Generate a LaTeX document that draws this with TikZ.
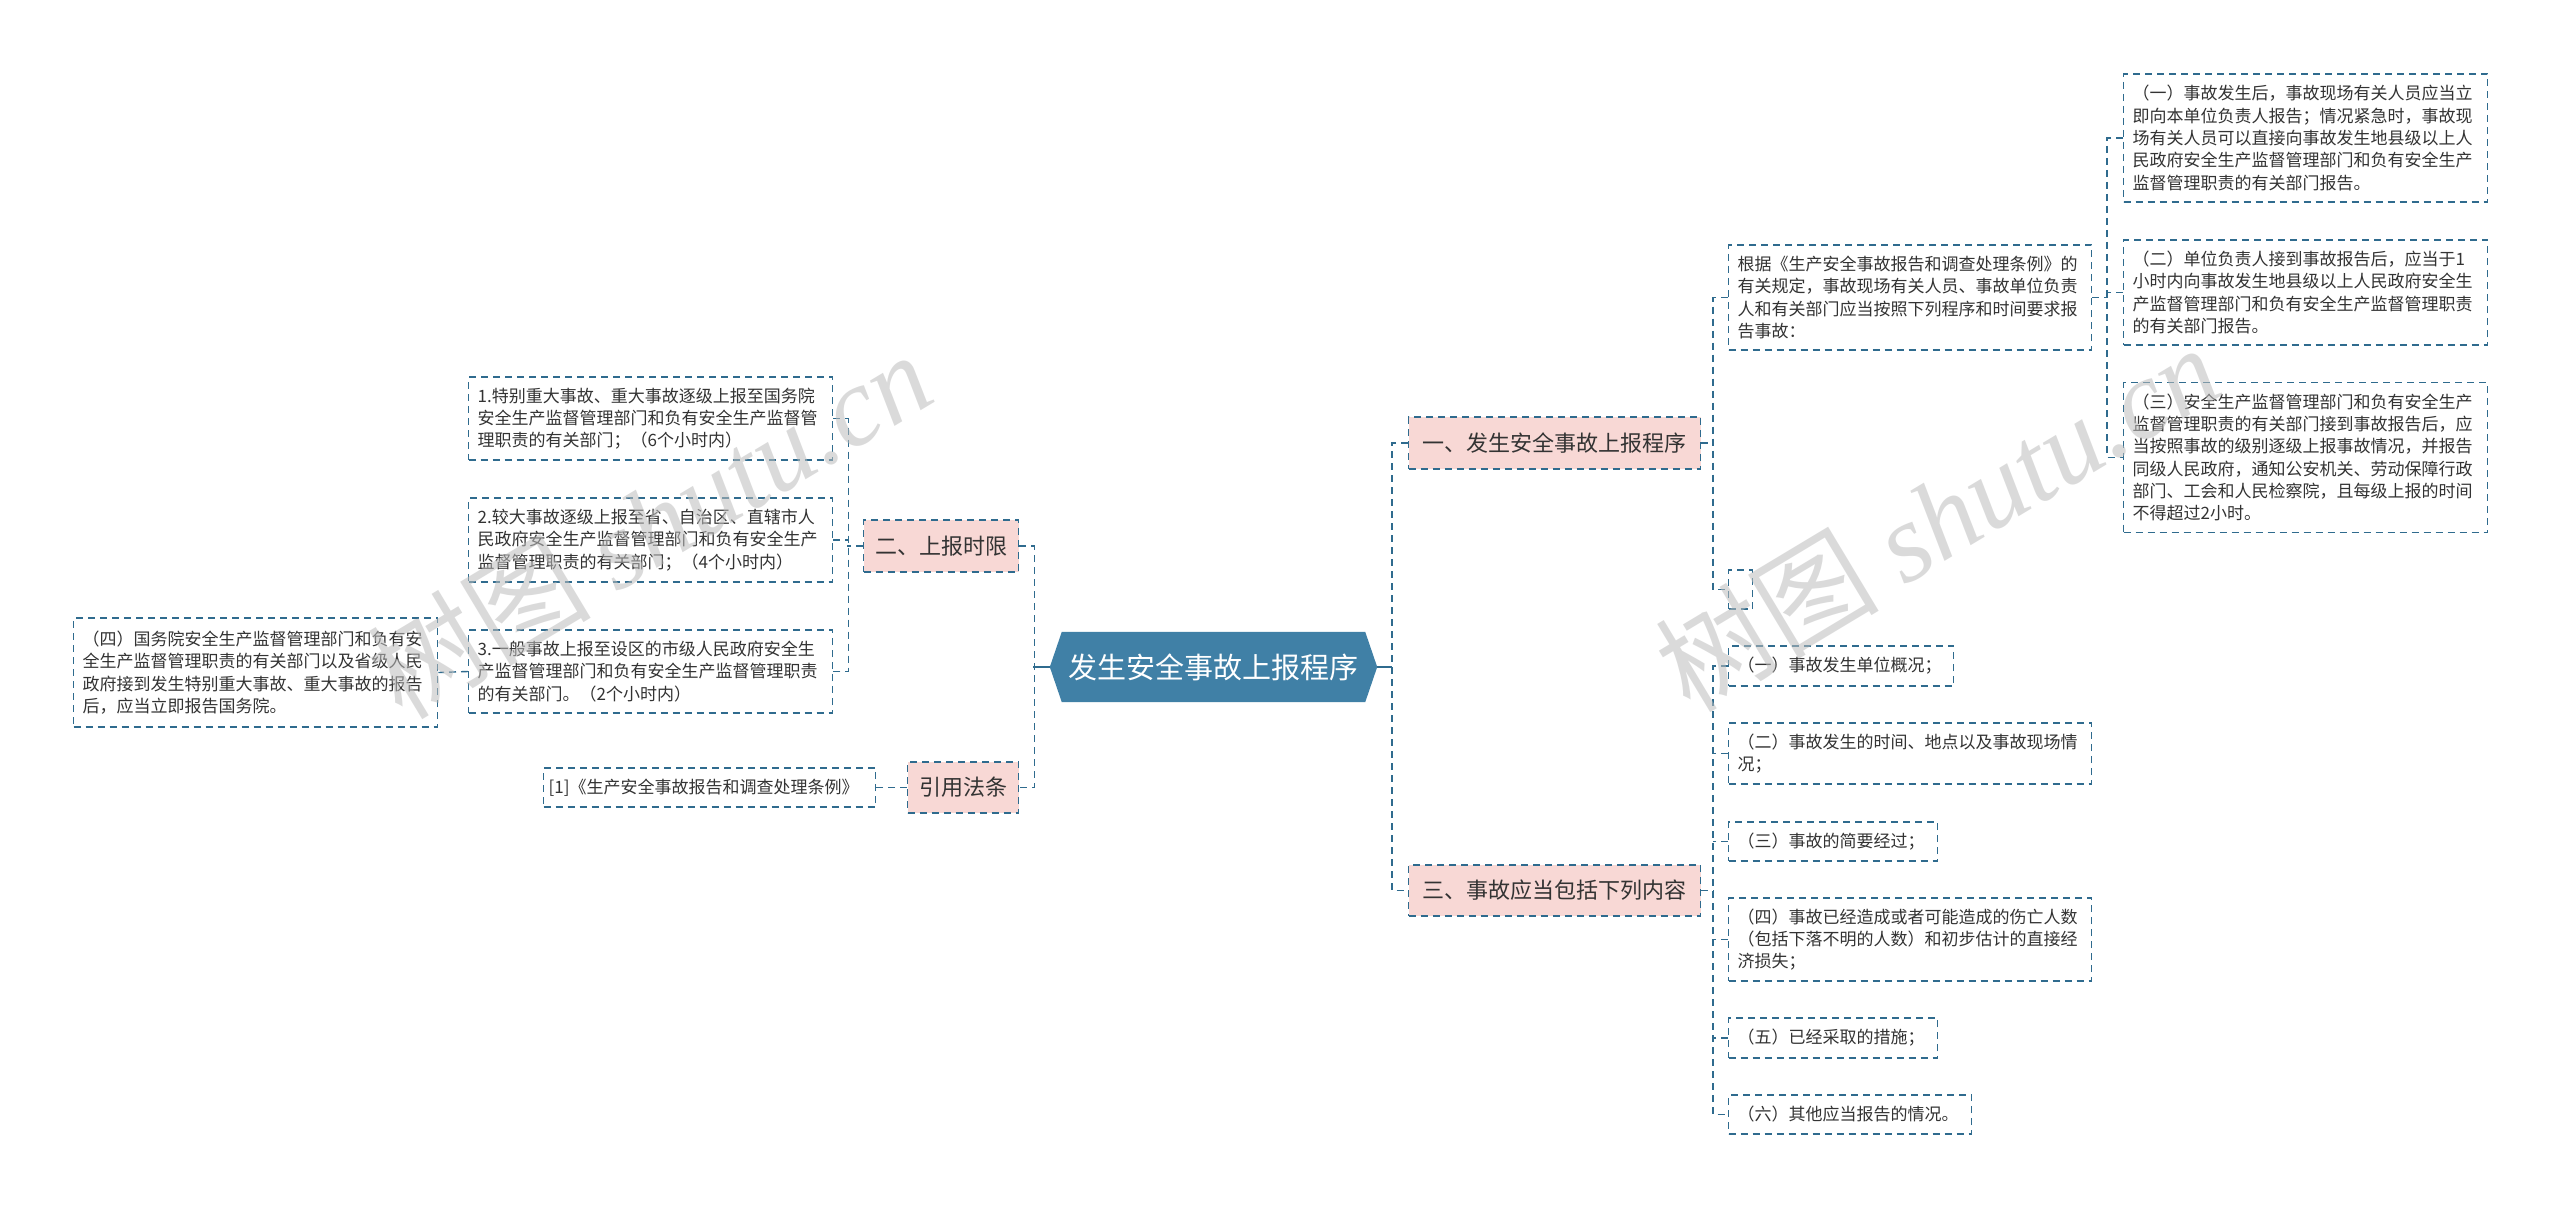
\documentclass[tikz,border=0pt]{standalone}
\usepackage{fontspec}
\setmainfont{Noto Sans CJK SC}
\newfontfamily\wmlatin{Liberation Serif}
\usetikzlibrary{calc}
\definecolor{lc}{HTML}{2F6B8E}
\definecolor{pinkf}{HTML}{F8D8D5}
\definecolor{hubf}{HTML}{4080A6}
\definecolor{tc}{HTML}{333333}
\definecolor{wm}{HTML}{BDBDBD}
\begin{document}
\begin{tikzpicture}[x=1pt,y=-1pt,
  dsh/.style={draw=lc, line width=1.4pt, dash pattern=on 7pt off 5pt},
  leaf/.style={dsh, fill=white, anchor=west, align=left, inner xsep=9pt, inner ysep=0pt, text=tc, font=\fontsize{17}{22.3}\selectfont},
  topic/.style={dsh, fill=pinkf, anchor=west, inner sep=0pt, text=tc, font=\fontsize{22}{26}\selectfont},
  link/.style={dsh},
  trunk/.style={draw=lc, line width=2pt},
  hub/.style={text=white, font=\fontsize{29}{34}\selectfont, minimum width=327pt, minimum height=70pt, inner sep=0pt},
  wmark/.style={rotate=31, text=wm, opacity=0.55, font=\fontsize{112}{112}\selectfont}
]
\useasboundingbox (0,0) rectangle (2560,1209);
\fill[white] (0,0) rectangle (2560,1209);

% root
\node[hub] (root) at (1213.5,667) {};
\fill[hubf] (root.west) -- ($(root.north west)+(12,0)$) -- ($(root.north east)+(-12,0)$) -- (root.east) -- ($(root.south east)+(-12,0)$) -- ($(root.south west)+(12,0)$) -- cycle;
\node[hub] at (root.center) {发生安全事故上报程序};

% level 1
\node[topic, minimum width=292pt, minimum height=52pt] (n1) at (1408,443) {一、发生安全事故上报程序};
\node[topic, minimum width=292pt, minimum height=51pt] (n3) at (1408,890.5) {三、事故应当包括下列内容};
\node[topic, minimum width=155pt, minimum height=52pt] (n2) at (863,546) {二、上报时限};
\node[topic, minimum width=111pt, minimum height=51pt] (n4) at (907,787.5) {引用法条};

% left leaves
\node[leaf, text width=346pt, minimum height=83pt] (b1) at (468,418.5) {1.特别重大事故、重大事故逐级上报至国务院\\安全生产监督管理部门和负有安全生产监督管\\理职责的有关部门；（6个小时内）};
\node[leaf, text width=346pt, minimum height=84pt] (b2) at (468,540) {2.较大事故逐级上报至省、自治区、直辖市人\\民政府安全生产监督管理部门和负有安全生产\\监督管理职责的有关部门；（4个小时内）};
\node[leaf, text width=346pt, minimum height=83pt] (b3) at (468,671.5) {3.一般事故上报至设区的市级人民政府安全生\\产监督管理部门和负有安全生产监督管理职责\\的有关部门。（2个小时内）};
\node[leaf, text width=346pt, minimum height=109pt] (q4) at (73,672.5) {（四）国务院安全生产监督管理部门和负有安\\全生产监督管理职责的有关部门以及省级人民\\政府接到发生特别重大事故、重大事故的报告\\后，应当立即报告国务院。};
\node[leaf, inner xsep=5pt, text width=322pt, minimum height=39pt] (ref) at (543,787.5) {[1]《生产安全事故报告和调查处理条例》};

% right leaves of n1
\node[leaf, text width=345pt, minimum height=105pt] (gj) at (1728,297.5) {根据《生产安全事故报告和调查处理条例》的\\有关规定，事故现场有关人员、事故单位负责\\人和有关部门应当按照下列程序和时间要求报\\告事故：};
\node[dsh, fill=white, anchor=west, minimum width=24pt, minimum height=39pt, inner sep=0pt] (e0) at (1728,589.5) {};
\node[leaf, text width=346pt, minimum height=128pt] (r1) at (2123,138) {（一）事故发生后，事故现场有关人员应当立\\即向本单位负责人报告；情况紧急时，事故现\\场有关人员可以直接向事故发生地县级以上人\\民政府安全生产监督管理部门和负有安全生产\\监督管理职责的有关部门报告。};
\node[leaf, text width=346pt, minimum height=105pt] (r2) at (2123,292.5) {（二）单位负责人接到事故报告后，应当于1\\小时内向事故发生地县级以上人民政府安全生\\产监督管理部门和负有安全生产监督管理职责\\的有关部门报告。};
\node[leaf, text width=346pt, minimum height=150pt] (r3) at (2123,457.5) {（三）安全生产监督管理部门和负有安全生产\\监督管理职责的有关部门接到事故报告后，应\\当按照事故的级别逐级上报事故情况，并报告\\同级人民政府，通知公安机关、劳动保障行政\\部门、工会和人民检察院，且每级上报的时间\\不得超过2小时。};

% right leaves of n3
\node[leaf, text width=207pt, minimum height=40pt] (c1) at (1728,666) {（一）事故发生单位概况；};
\node[leaf, text width=345pt, minimum height=61pt] (c2) at (1728,753.5) {（二）事故发生的时间、地点以及事故现场情\\况；};
\node[leaf, text width=191pt, minimum height=39pt] (c3) at (1728,841.5) {（三）事故的简要经过；};
\node[leaf, text width=345pt, minimum height=83pt] (c4) at (1728,939.5) {（四）事故已经造成或者可能造成的伤亡人数\\（包括下落不明的人数）和初步估计的直接经\\济损失；};
\node[leaf, text width=191pt, minimum height=40pt] (c5) at (1728,1038) {（五）已经采取的措施；};
\node[leaf, text width=225pt, minimum height=39pt] (c6) at (1728,1114.5) {（六）其他应当报告的情况。};

% connectors
\draw[trunk] (root.east) -- ++(15,0);
\draw[trunk] (root.west) -- ++(-17,0);
\draw[link] (n1.west) -- ++(-16,0) |- (n3.west);
\draw[link] (n2.east) -- ++(15,0) |- (n4.east);
\draw[link] (n2.west) -- ++(-16,0);
\draw[link] (b1.east) -- ++(15,0) |- (b3.east);
\draw[link] (b2.east) -- ++(15,0);
\draw[link] (b3.west) -- (q4.east);
\draw[link] (n4.west) -- (ref.east);
\draw[link] (n1.east) -- ++(13,0);
\draw[link] (gj.west) -- ++(-15,0) |- (e0.west);
\draw[link] (gj.east) -- ++(16,0);
\draw[link] (r1.west) -- ++(-16,0) |- (r3.west);
\draw[link] (r2.west) -- ++(-16,0);
\draw[link] (n3.east) -- ++(13,0);
\draw[link] (c1.west) -- ++(-15,0) |- (c6.west);
\draw[link] (c2.west) -- ++(-15,0);
\draw[link] (c3.west) -- ++(-15,0);
\draw[link] (c4.west) -- ++(-15,0);
\draw[link] (c5.west) -- ++(-15,0);

% watermarks
\node[wmark] (wm1) at (649,524) {树图 {\wmlatin\itshape shutu.cn}};
\node[wmark] (wm2) at (1937,517) {树图 {\wmlatin\itshape shutu.cn}};
\end{tikzpicture}
\end{document}
